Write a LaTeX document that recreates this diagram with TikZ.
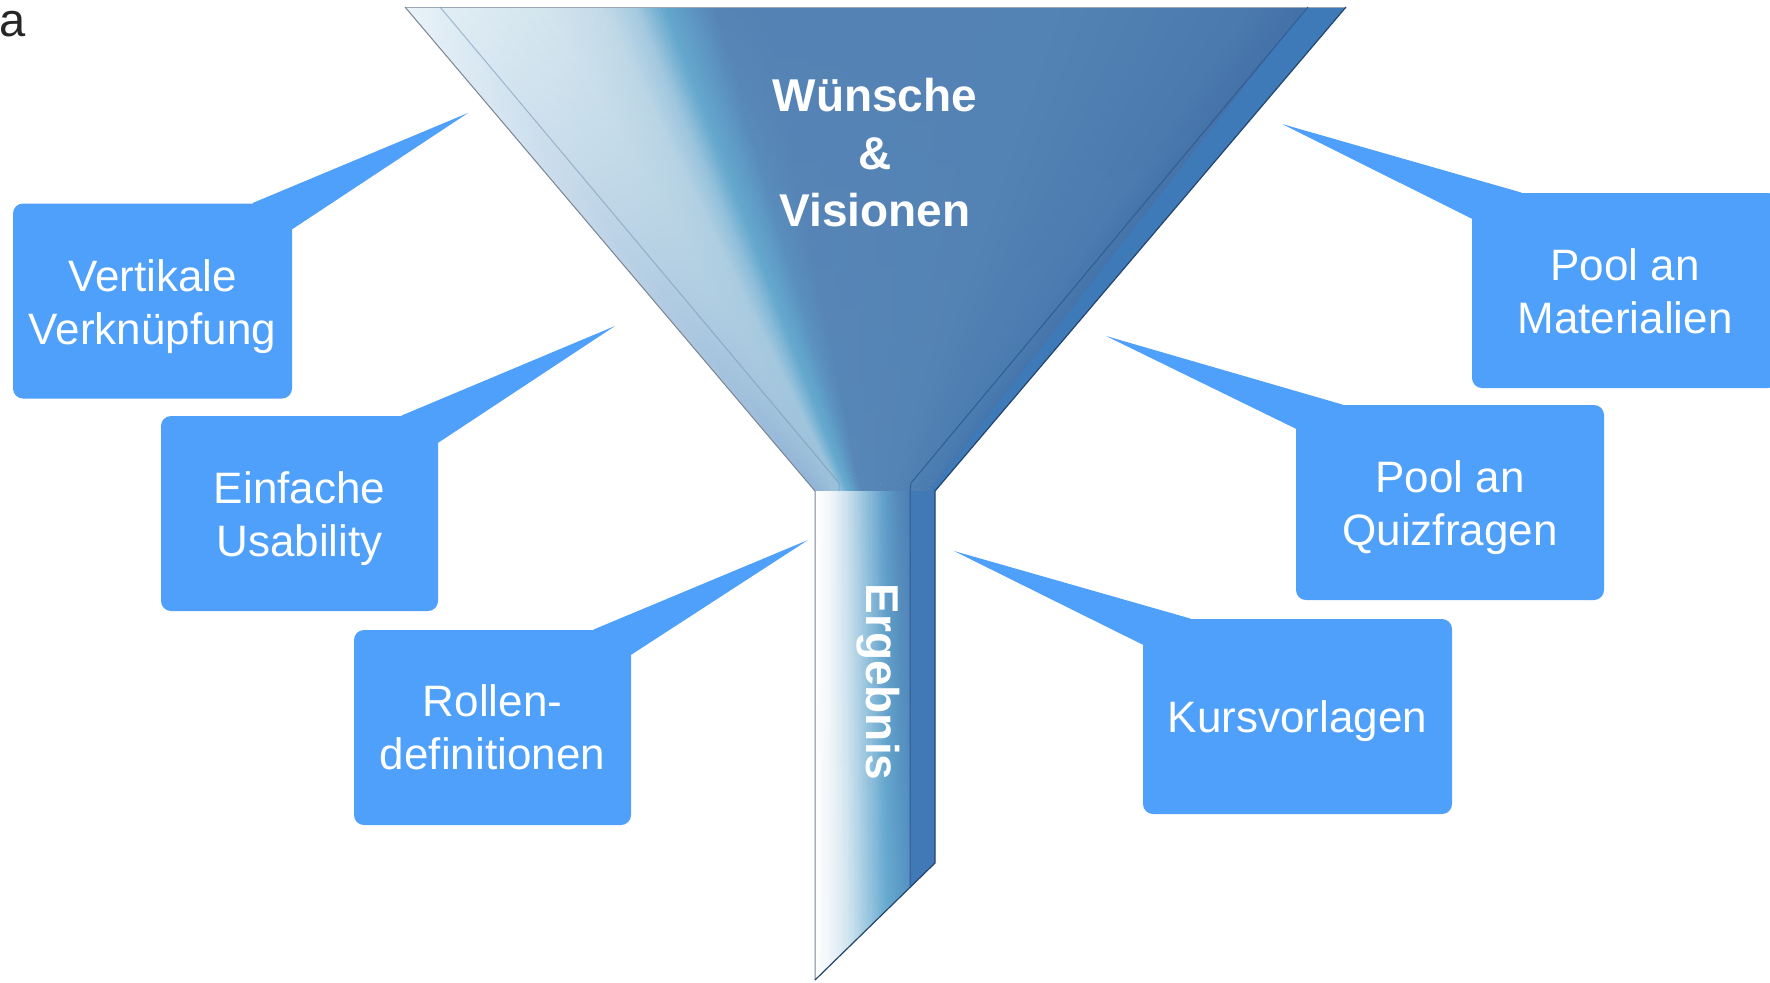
\documentclass[tikz,border=0pt]{standalone}
\usepackage{fontspec}
\setmainfont{Liberation Sans}
\usetikzlibrary{calc}

\definecolor{callout}{RGB}{78,160,250}
% cone stops (top / bottom colours)
\definecolor{s0t}{HTML}{EAF3F9}\definecolor{s0b}{HTML}{93B4D6}
\definecolor{s1t}{HTML}{E2EEF5}\definecolor{s1b}{HTML}{8FB4D5}
\definecolor{s2t}{HTML}{D3E5EE}\definecolor{s2b}{HTML}{99BED9}
\definecolor{s3t}{HTML}{C3DAE8}\definecolor{s3b}{HTML}{98C1DA}
\definecolor{s4t}{HTML}{A6CAE0}\definecolor{s4b}{HTML}{78B3D5}
\definecolor{s5t}{HTML}{66A8CD}\definecolor{s5b}{HTML}{66A9CE}
\definecolor{s6t}{HTML}{5E98C3}\definecolor{s6b}{HTML}{62A6CC}
\definecolor{s7t}{HTML}{5684B5}\definecolor{s7b}{HTML}{5E9AC5}
\definecolor{s8t}{HTML}{5582B4}\definecolor{s8b}{HTML}{5787B8}
\definecolor{s9t}{HTML}{5382B4}\definecolor{s9b}{HTML}{5382B4}
\definecolor{s10t}{HTML}{4A79AE}\definecolor{s10b}{HTML}{4B7CB1}
\definecolor{s11t}{HTML}{4471A8}\definecolor{s11b}{HTML}{4576AD}
\definecolor{rimblue}{HTML}{3F7AB8}
% spout stops
\definecolor{u0t}{HTML}{FFFFFF}\definecolor{u0b}{HTML}{FFFFFF}
\definecolor{u1t}{HTML}{F4F8FB}\definecolor{u1b}{HTML}{F0F6FA}
\definecolor{u2t}{HTML}{C9DFEC}\definecolor{u2b}{HTML}{D3E6F0}
\definecolor{u3t}{HTML}{8FBFDB}\definecolor{u3b}{HTML}{9FCAE1}
\definecolor{u4t}{HTML}{5E9BC8}\definecolor{u4b}{HTML}{6AADD2}
\definecolor{u5t}{HTML}{5488BA}\definecolor{u5b}{HTML}{5DA0CA}
\definecolor{u6t}{HTML}{4F80B5}\definecolor{u6b}{HTML}{5597C6}
\definecolor{spoutrim}{HTML}{4079B5}

% #1 ta, #2 tb, #3 topA, #4 topB, #5 botA, #6 botB
\newcommand\conestrips[6]{%
  \foreach \k in {0,...,7}{%
    \pgfmathsetmacro\csa{#1+(#2-#1)*\k/8}%
    \pgfmathsetmacro\csb{#1+(#2-#1)*(\k+1)/8+0.003}%
    \pgfmathtruncatemacro\csp{100-(\k*2+1)*100/16}%
    \shade[top color=#3!\csp!#4, bottom color=#5!\csp!#6]
      (405+941*\csa,7) -- (405+941*\csb,7) -- (815+120*\csb,491) -- (815+120*\csa,491) -- cycle;
  }%
}
\newcommand\spoutstrips[6]{%
  \foreach \k in {0,...,7}{%
    \pgfmathsetmacro\ssa{#1+(#2-#1)*\k/8}%
    \pgfmathsetmacro\ssb{#1+(#2-#1)*(\k+1)/8+0.01}%
    \pgfmathtruncatemacro\ssp{100-(\k*2+1)*100/16}%
    \shade[top color=#3!\ssp!#4, bottom color=#5!\ssp!#6]
      (815+95*\ssa,491) rectangle (815+95*\ssb,980);
  }%
}

\begin{document}
\begin{tikzpicture}[x=0.5pt,y=-0.5pt,
  callbox/.style={fill=callout, rounded corners=5pt, inner sep=0pt, minimum height=97.5pt},
  calltext/.style={inner sep=0pt, text=white, font=\fontsize{22}{26.5}\selectfont, align=center},
  titletext/.style={font=\bfseries\fontsize{23}{28.75}\selectfont, align=center, inner sep=0pt, text=white},
  pointer/.style={fill=callout},
]
\clip (0,0) rectangle (1770,982);
\fill[white] (0,0) rectangle (1770,982);

% ---------- funnel cone ----------
\conestrips{0}{0.036}{s0t}{s1t}{s0b}{s1b}
\conestrips{0.036}{0.15}{s1t}{s2t}{s1b}{s2b}
\conestrips{0.15}{0.21}{s2t}{s3t}{s2b}{s3b}
\conestrips{0.21}{0.245}{s3t}{s4t}{s3b}{s4b}
\conestrips{0.245}{0.275}{s4t}{s5t}{s4b}{s5b}
\conestrips{0.275}{0.30}{s5t}{s6t}{s5b}{s6b}
\conestrips{0.30}{0.33}{s6t}{s7t}{s6b}{s7b}
\conestrips{0.33}{0.38}{s7t}{s8t}{s7b}{s8b}
\conestrips{0.38}{0.70}{s8t}{s9t}{s8b}{s9b}
\conestrips{0.70}{0.90}{s9t}{s10t}{s9b}{s10b}
\conestrips{0.90}{0.958}{s10t}{s11t}{s10b}{s11b}
\fill[rimblue] (405+941*0.958,7) -- (1346,7) -- (935,491) -- (815+120*0.958,491) -- cycle;

% ---------- spout ----------
\begin{scope}
  \clip (815,491) -- (935,491) -- (935,863) -- (815,980) -- cycle;
  \spoutstrips{0}{0.15}{u0t}{u1t}{u0b}{u1b}
  \spoutstrips{0.15}{0.35}{u1t}{u2t}{u1b}{u2b}
  \spoutstrips{0.35}{0.55}{u2t}{u3t}{u2b}{u3b}
  \spoutstrips{0.55}{0.75}{u3t}{u4t}{u3b}{u4b}
  \spoutstrips{0.75}{0.90}{u4t}{u5t}{u4b}{u5b}
  \spoutstrips{0.90}{1.0}{u5t}{u6t}{u5b}{u6b}
  \fill[spoutrim] (910,491) rectangle (936,980);
\end{scope}

% ---------- funnel outlines ----------
\draw[line width=0.4pt, color={rgb,255:red,154;green,168;blue,184}] (405,7) -- (1346,7);
\draw[line width=0.5pt, color={rgb,255:red,122;green,132;blue,145}] (405,7) -- (815,491) -- (815,980);
\draw[line width=0.6pt, color={rgb,255:red,36;green,69;blue,110}] (1346,7) -- (935,491) -- (935,863) -- (815,980);
\draw[line width=0.5pt, color={rgb,255:red,120;green,150;blue,180}, opacity=0.6] (440,7) -- (839,483) -- (839,491);
\draw[line width=0.5pt, color={rgb,255:red,47;green,94;blue,147}] (1308,7) -- (911,483) -- (910,491) -- (910,887);

% ---------- funnel texts ----------
\node[titletext] (title) at (875,153) {Wünsche\\\&\\Visionen};
\node[titletext, rotate=-90] (erg) at (878,682) {Ergebnis};

% ---------- label ----------
\node[anchor=base west, inner sep=0pt, font=\fontsize{23.5}{23.5}\selectfont, text=black!85] (lbl) at (-1,36) {a};

% ---------- callouts (left) ----------
\node[callbox, minimum width=139.5pt] (c1) at (152.5,301) {};
\node[calltext] (c1-text) at ($(c1.center)+(0,6)$) {Vertikale\\Verknüpfung};
\coordinate (t1) at (468,113);
\fill[pointer] ($(c1.north east)+(-40,0)$) -- (t1) -- ($(c1.north east)+(0,26)$) -- cycle;

\node[callbox, minimum width=138.5pt] (c2) at (299.5,513.5) {};
\node[calltext] (c2-text) at ($(c2.center)+(0,5)$) {Einfache\\Usability};
\coordinate (t2) at (615,326);
\fill[pointer] ($(c2.north east)+(-37,0)$) -- (t2) -- ($(c2.north east)+(0,27)$) -- cycle;

\node[callbox, minimum width=138.5pt] (c3) at (492.5,727.5) {};
\node[calltext] (c3-text) at ($(c3.center)+(0,0)$) {Rollen-\\definitionen};
\coordinate (t3) at (808,540);
\fill[pointer] ($(c3.north east)+(-38,0)$) -- (t3) -- ($(c3.north east)+(0,25)$) -- cycle;

% ---------- callouts (right) ----------
\node[callbox, minimum width=153pt] (c4) at (1625,290.5) {};
\node[calltext] (c4-text) at ($(c4.center)+(0,1)$) {Pool an\\Materialien};
\coordinate (t4) at (1282,124);
\fill[pointer] ($(c4.north west)+(50,0)$) -- (t4) -- ($(c4.north west)+(0,26)$) -- cycle;

\node[callbox, minimum width=154pt] (c5) at (1450,502.5) {};
\node[calltext] (c5-text) at ($(c5.center)+(0,5)$) {Pool an\\Quizfragen};
\coordinate (t5) at (1106,336);
\fill[pointer] ($(c5.north west)+(47,0)$) -- (t5) -- ($(c5.north west)+(0,24)$) -- cycle;

\node[callbox, minimum width=154.5pt] (c6) at (1297.5,716.5) {};
\node[calltext] (c6-text) at ($(c6.center)+(0,5)$) {Kursvorlagen};
\coordinate (t6) at (954,551);
\fill[pointer] ($(c6.north west)+(48,0)$) -- (t6) -- ($(c6.north west)+(0,26)$) -- cycle;
\end{tikzpicture}
\end{document}
